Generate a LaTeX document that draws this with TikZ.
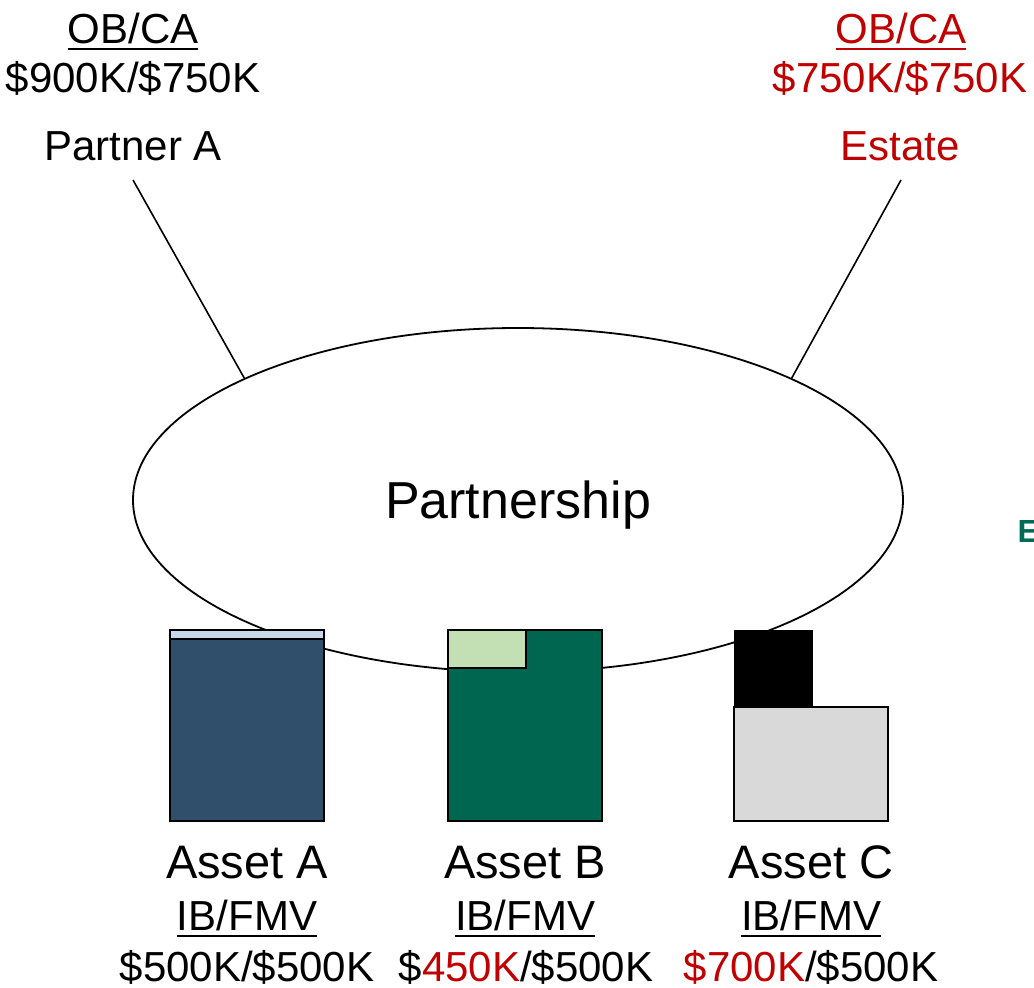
\documentclass[tikz,border=0pt]{standalone}
\usepackage{fontspec}
\setmainfont{Liberation Sans}
\usetikzlibrary{shapes.geometric}
\definecolor{redx}{HTML}{C00000}
\definecolor{assetblue}{HTML}{2F4F6A}
\definecolor{stripblue}{HTML}{C8D8E6}
\definecolor{assetgreen}{HTML}{006650}
\definecolor{lightgreen}{HTML}{C2E0B4}
\definecolor{assetgray}{HTML}{D9D9D9}
\definecolor{egreen}{HTML}{006B55}
\newcommand{\ulx}[1]{\setbox0\hbox{#1}\rlap{\rule[-7pt]{\wd0}{2.5pt}}\box0}
\begin{document}
\begin{tikzpicture}[x=1pt,y=-1pt,
  txt/.style={inner sep=0pt, anchor=base, font=\fontsize{42}{50}\selectfont},
  big/.style={inner sep=0pt, anchor=base, font=\fontsize{47}{56}\selectfont},
  conn/.style={line width=1.6pt},
  box/.style={draw, line width=2pt},
  thinbox/.style={draw, line width=0.8pt}]
\useasboundingbox (0,0) rectangle (1034,988);
% partnership ellipse
\node[ellipse, draw, line width=1.8pt, minimum width=770pt, minimum height=344pt,
      inner sep=0pt, text height=36pt, text depth=0pt,
      font=\fontsize{52}{60}\selectfont] (ps) at (518,500) {Partnership};
% Partner A
\node[txt] (obA) at (133,43) {\ulx{OB/CA}};
\node[txt] (valA) at (133,92) {\$900K/\$750K};
\node[txt] (pA) at (133,160) {Partner A};
\coordinate (pAl) at (133,180);
% Estate
\node[txt, text=redx] (obE) at (901,43) {\ulx{OB/CA}};
\node[txt, text=redx] (valE) at (900,92) {\$750K/\$750K};
\node[txt, text=redx] (est) at (900,160) {Estate};
\coordinate (estl) at (901,180);
\draw[conn] (pAl) -- (ps.156);
\draw[conn] (estl) -- (ps.24);
% cut-off label at right edge
\node[inner sep=0pt, anchor=base west, text=egreen, font=\fontsize{32}{38}\selectfont\bfseries] (edge) at (1017.5,542) {E};
% Asset A
\path[box, fill=assetblue] (170,630) rectangle (324,821);
\path[box, fill=stripblue] (170,630) rectangle (324,639);
% Asset B
\path[box, fill=assetgreen] (448,630) rectangle (602,821);
\path[box, fill=lightgreen] (448,630) rectangle (526,668);
% Asset C
\path[thinbox, fill=black] (734,630) rectangle (812,821);
\path[box, fill=assetgray] (734,707) rectangle (888,821);
% asset labels
\node[big] (aA) at (247,878) {Asset A};
\node[txt] (ibA) at (247,930) {\ulx{IB/FMV}};
\node[txt] (vA) at (247,981) {\$500K/\$500K};
\node[big] (aB) at (525,878) {Asset B};
\node[txt] (ibB) at (525,930) {\ulx{IB/FMV}};
\node[txt] (vB) at (526,981) {\$\textcolor{redx}{450K}/\$500K};
\node[big] (aC) at (811,878) {Asset C};
\node[txt] (ibC) at (811,930) {\ulx{IB/FMV}};
\node[txt] (vC) at (811,981) {\textcolor{redx}{\$700K}/\$500K};
\end{tikzpicture}
\end{document}
